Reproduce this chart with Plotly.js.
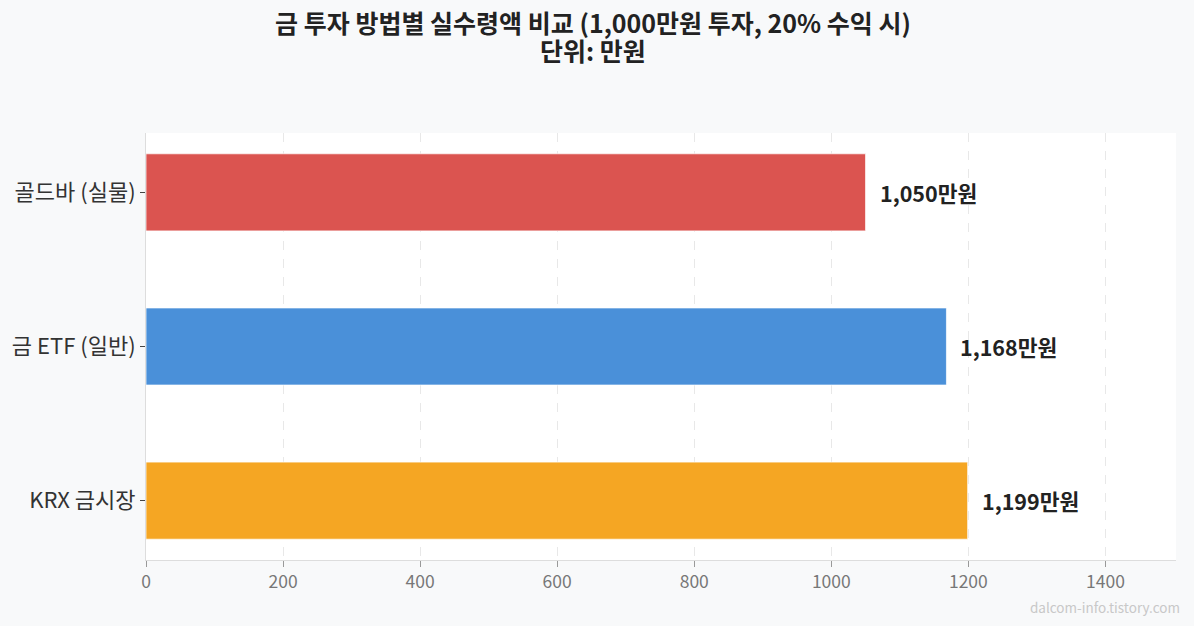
<!DOCTYPE html>
<html>
<head>
<meta charset="utf-8">
<script src="https://cdn.plot.ly/plotly-3.0.1.min.js"></script>
<style>html,body{margin:0;padding:0;background:#f8f9fa;}#chart{width:1194px;height:626px;}</style>
</head>
<body>
<div id="chart"></div>
<script>
const categories = ["골드바 (실물)", "금 ETF (일반)", "KRX 금시장"];
const values = [1050, 1168, 1199];
const labels = ["1,050만원", "1,168만원", "1,199만원"];
const colors = ["#DB5450", "#4A90D9", "#F5A623"];
const xTicks = [0, 200, 400, 600, 800, 1000, 1200, 1400];
const titleLine1 = "금 투자 방법별 실수령액 비교 (1,000만원 투자, 20% 수익 시)";
const titleLine2 = "단위: 만원";

const FONT = "'Noto Sans CJK KR', 'Noto Sans', sans-serif";
const W = 1194, H = 626, ML = 146, MR = 18, MT = 133, MB = 66;
const PW = W - ML - MR, PH = H - MT - MB;
const px = x => (x - ML) / PW;
const py = y => (H - MB - y) / PH;

const trace = {
  type: "bar",
  orientation: "h",
  y: categories,
  x: values,
  width: 0.5,
  marker: { color: colors, line: { color: "rgba(255,255,255,0.7)", width: 1 } },
  hoverinfo: "none"
};

const annotations = categories.map((c, i) => ({
  x: values[i], y: c, xref: "x", yref: "y",
  text: "<b>" + labels[i] + "</b>",
  showarrow: false, xanchor: "left", yanchor: "middle", xshift: 12,
  font: { family: FONT, size: 21.5, color: "#222" }
}));
annotations.push({
  x: px(593), y: py(50), xref: "paper", yref: "paper",
  text: "<b>" + titleLine2 + "</b>", showarrow: false,
  xanchor: "center", yanchor: "middle",
  font: { family: FONT, size: 25, color: "#222" }
});
annotations.push({
  x: px(1182), y: py(607), xref: "paper", yref: "paper",
  text: "dalcom-info.tistory.com", showarrow: false,
  xanchor: "right", yanchor: "middle",
  font: { family: FONT, size: 13.5, color: "#c8c8c8" }
});

const layout = {
  width: W, height: H,
  paper_bgcolor: "#f8f9fa",
  plot_bgcolor: "#ffffff",
  margin: { l: ML, r: MR, t: MT, b: MB },
  showlegend: false,
  title: {
    text: "<b>" + titleLine1 + "</b>",
    font: { family: FONT, size: 25, color: "#222" },
    x: 593 / W, xanchor: "center", y: 1 - 24 / H, yanchor: "middle"
  },
  xaxis: {
    range: [0, 1503],
    tickvals: xTicks,
    ticktext: xTicks.map(String),
    showgrid: true, gridcolor: "#e8e8e8", griddash: "dash", gridwidth: 1,
    zeroline: false,
    showline: true, linecolor: "#dddddd", linewidth: 1,
    ticks: "outside", ticklen: 6, tickcolor: "#999",
    tickfont: { family: FONT, size: 17.5, color: "#777" }
  },
  yaxis: {
    type: "category",
    categoryorder: "array", categoryarray: categories,
    range: [2.385, -0.385],
    showgrid: false, zeroline: false,
    showline: true, linecolor: "#dddddd", linewidth: 1,
    ticks: "outside", ticklen: 5, tickcolor: "#444",
    tickfont: { family: FONT, size: 22, color: "#333" }
  },
  annotations: annotations
};

Plotly.newPlot("chart", [trace], layout, { displayModeBar: false, staticPlot: true });
</script>
</body>
</html>
